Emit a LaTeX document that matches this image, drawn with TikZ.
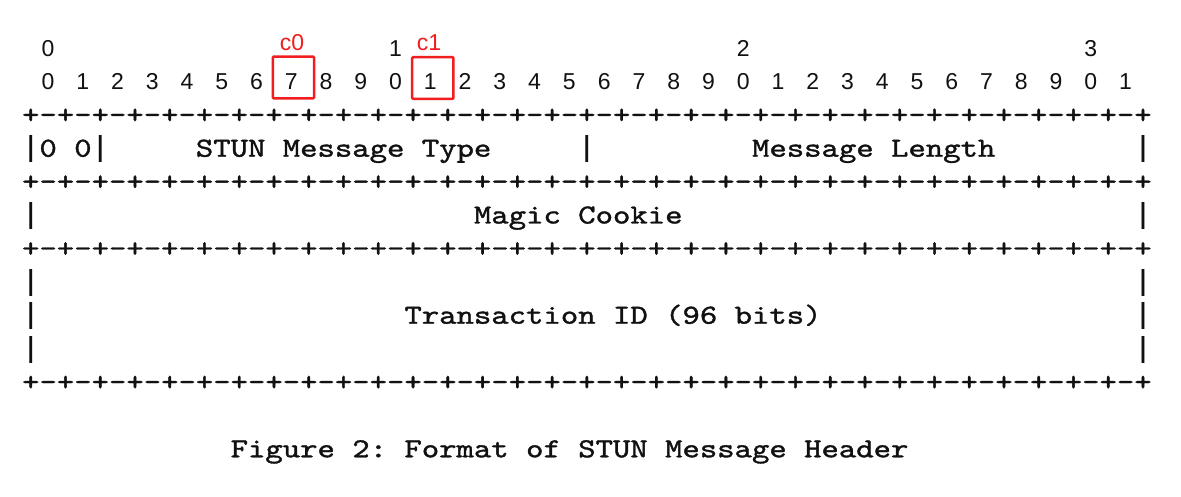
\documentclass[tikz,border=0pt]{standalone}
\usepackage{fontspec}
\newfontfamily\asciifont{lmmono10-regular.otf}[FakeBold=1.2]
\newfontfamily\vbarfont{Liberation Mono}
\newfontfamily\digitfont{Liberation Sans}
\newfontfamily\labelfont{Liberation Sans}
\definecolor{markred}{HTML}{F01E1E}
\definecolor{ink}{HTML}{111111}
\frenchspacing
\newcommand\vb{\makebox[14.44pt]{\vbarfont\fontsize{29}{29}\selectfont|}}
\newcommand\seg[4]{\node[ascii] (#1) at ({21.9+17.38*#2},{56.5+33.4*#3}) {\scalebox{1.2037}[1]{#4}};}
\newcommand\plusline{+-+-+-+-+-+-+-+-+-+-+-+-+-+-+-+-+-+-+-+-+-+-+-+-+-+-+-+-+-+-+-+-+}
\begin{document}
\begin{tikzpicture}[x=1pt,y=-1pt,
  ascii/.style={anchor=base west, inner sep=0pt, text=ink, font=\asciifont\fontsize{27.5}{27.5}\selectfont\frenchspacing},
  bitnum/.style={anchor=base, inner sep=0pt, text=ink, font=\digitfont\fontsize{23}{23}\selectfont},
  markbox/.style={draw=markred, line width=2.5pt, rounded corners=1pt, inner sep=0pt, minimum width=41.3pt, minimum height=41.6pt},
  marklabel/.style={text=markred, inner sep=0pt, font=\labelfont\fontsize{23}{23}\selectfont}]
\useasboundingbox (0,0) rectangle (1181,497);
\fill[white] (0,0) rectangle (1181,497);
% bit numbers
\node[bitnum] (t0) at ({30.6+17.38*1},56.5) {0};
\node[bitnum] (t1) at ({30.6+17.38*21},56.5) {1};
\node[bitnum] (t2) at ({30.6+17.38*41},56.5) {2};
\node[bitnum] (t3) at ({30.6+17.38*61},56.5) {3};
\foreach \i in {0,...,31}{
  \pgfmathtruncatemacro\d{mod(\i,10)}
  \node[bitnum] (b\i) at ({30.6+17.38*(2*\i+1)},89.9) {\d};
}
% rows
\seg{r2}{0}{2}{\plusline}
\seg{r4}{0}{4}{\plusline}
\seg{r6}{0}{6}{\plusline}
\seg{r10}{0}{10}{\plusline}
\seg{r3a}{0}{3}{\vb0 0\vb}
\seg{r3b}{10}{3}{STUN Message Type}
\seg{r3c}{32}{3}{\vb}
\seg{r3d}{42}{3}{Message Length}
\seg{r3e}{64}{3}{\vb}
\seg{r5a}{0}{5}{\vb}
\seg{r5b}{26}{5}{Magic Cookie}
\seg{r5c}{64}{5}{\vb}
\seg{r7a}{0}{7}{\vb}
\seg{r7b}{64}{7}{\vb}
\seg{r8a}{0}{8}{\vb}
\seg{r8b}{22}{8}{Transaction ID (96 bits)}
\seg{r8c}{64}{8}{\vb}
\seg{r9a}{0}{9}{\vb}
\seg{r9b}{64}{9}{\vb}
\seg{cap}{12}{12}{Figure 2: Format of STUN Message Header}
% red marks
\node[markbox] (c0box) at (293.4,77.5) {};
\node[markbox] (c1box) at (432.8,78) {};
\node[marklabel] (c0) at (292,43) {c0};
\node[marklabel] (c1) at (429,43) {c1};
\end{tikzpicture}
\end{document}
